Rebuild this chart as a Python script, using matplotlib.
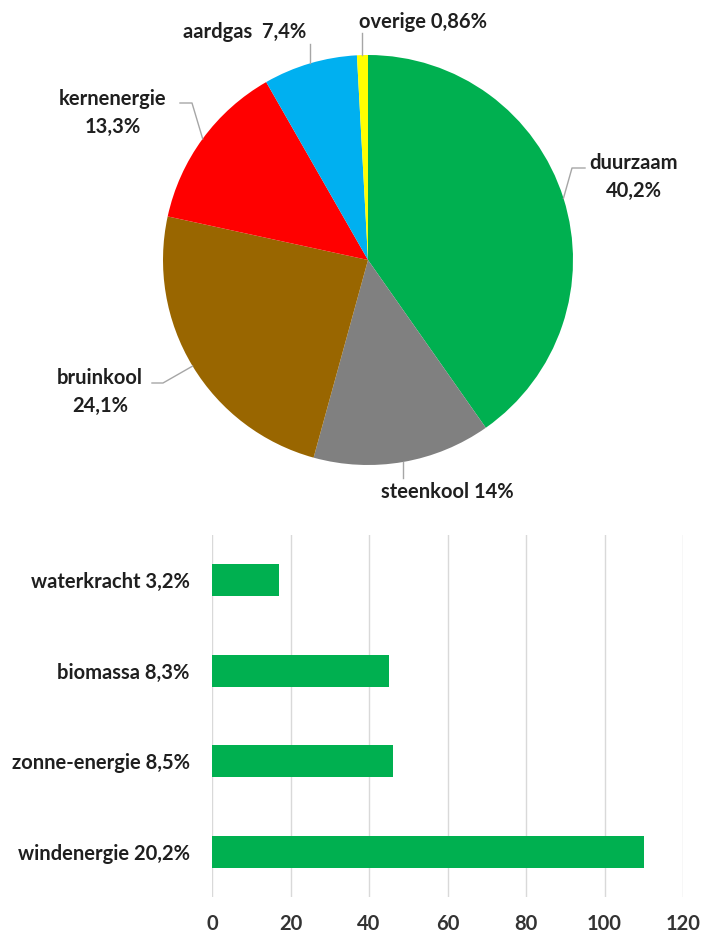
import matplotlib.pyplot as plt
import numpy as np

plt.rcParams['font.family'] = ['Lato', 'DejaVu Sans']

# pie data
bronnen = ['duurzaam', 'steenkool', 'bruinkool', 'kernenergie', 'aardgas', 'overige']
aandeel = [40.2, 14.0, 24.1, 13.3, 7.4, 0.86]
labels_pie = ['duurzaam\n40,2%', 'steenkool 14%', 'bruinkool\n24,1%',
              'kernenergie\n13,3%', 'aardgas  7,4%', 'overige 0,86%']
kleuren = ['#00B050', '#808080', '#996600', '#FF0000', '#00B0F0', '#FFFF00']

# bar data
duurzaam_soort = ['waterkracht 3,2%', 'biomassa 8,3%', 'zonne-energie 8,5%', 'windenergie 20,2%']
duurzaam_twh = [17, 45, 46, 110]
xticks = [0, 20, 40, 60, 80, 100, 120]

W, H = 702, 933
fig = plt.figure(figsize=(W / 100, H / 100), dpi=100)

# pie: center (368, 260) px, radius 205 px
cx, cy, r = 368, 260, 205
ax = fig.add_axes([(cx - r) / W, (H - cy - r) / H, 2 * r / W, 2 * r / H])
wedges, _ = ax.pie(aandeel, colors=kleuren, startangle=90, counterclock=False,
                   radius=1.0, wedgeprops=dict(linewidth=0))
ax.set_xlim(-1, 1)
ax.set_ylim(-1, 1)
ax.set_aspect('auto')
ax.axis('off')

def px(x, y):
    return ((x - cx) / r, (cy - y) / r)

tc = '#1f1f1f'
lc = '#a6a6a6'
fs = 14.5

# label centre in px, leader line points in px after the wedge edge
plaats = {
    'duurzaam': ((634, 177), [(572, 168), (585, 168)]),
    'steenkool': ((447, 492), [(None, 478)]),
    'bruinkool': ((100, 392), [(163, 383), (152, 383)]),
    'kernenergie': ((113, 113), [(192, 103), (180, 103)]),
    'aardgas': ((245, 32), [(None, 44)]),
    'overige': ((423, 22), [(None, 33)]),
}

for w, naam, lab in zip(wedges, bronnen, labels_pie):
    mid = np.deg2rad((w.theta1 + w.theta2) / 2)
    ex, ey = np.cos(mid), np.sin(mid)
    (lx, ly), lijn = plaats[naam]
    tx, ty = px(lx, ly)
    ax.text(tx, ty, lab, ha='center', va='center', fontsize=fs, color=tc,
            fontweight='bold', linespacing=1.45, clip_on=False)
    xs, ys = [ex], [ey]
    for a, b in lijn:
        xs.append(ex if a is None else px(a, 0)[0])
        ys.append(px(0, b)[1])
    ax.plot(xs, ys, color=lc, lw=1, clip_on=False)

# bar chart
bx = fig.add_axes([212 / W, (H - 897) / H, (683 - 212) / W, 362 / H])
pos = np.arange(len(duurzaam_soort))
bx.barh(pos, duurzaam_twh, height=0.35, color='#00B050', zorder=3)
bx.set_ylim(len(duurzaam_soort) - 0.5, -0.5)
bx.set_xlim(0, 120)
bx.set_xticks(xticks)
bx.set_yticks(pos)
bx.set_yticklabels(duurzaam_soort, fontsize=fs, color=tc, fontweight='bold')
bx.set_xticklabels([str(t) for t in xticks], fontsize=fs, color='#333333',
                   fontweight='bold')
bx.grid(axis='x', color='#d9d9d9', lw=1, zorder=0)
for s in bx.spines.values():
    s.set_visible(False)
bx.tick_params(axis='both', length=0)
bx.tick_params(axis='x', pad=12)
bx.tick_params(axis='y', pad=16)

fig.savefig('out.png', dpi=100)
